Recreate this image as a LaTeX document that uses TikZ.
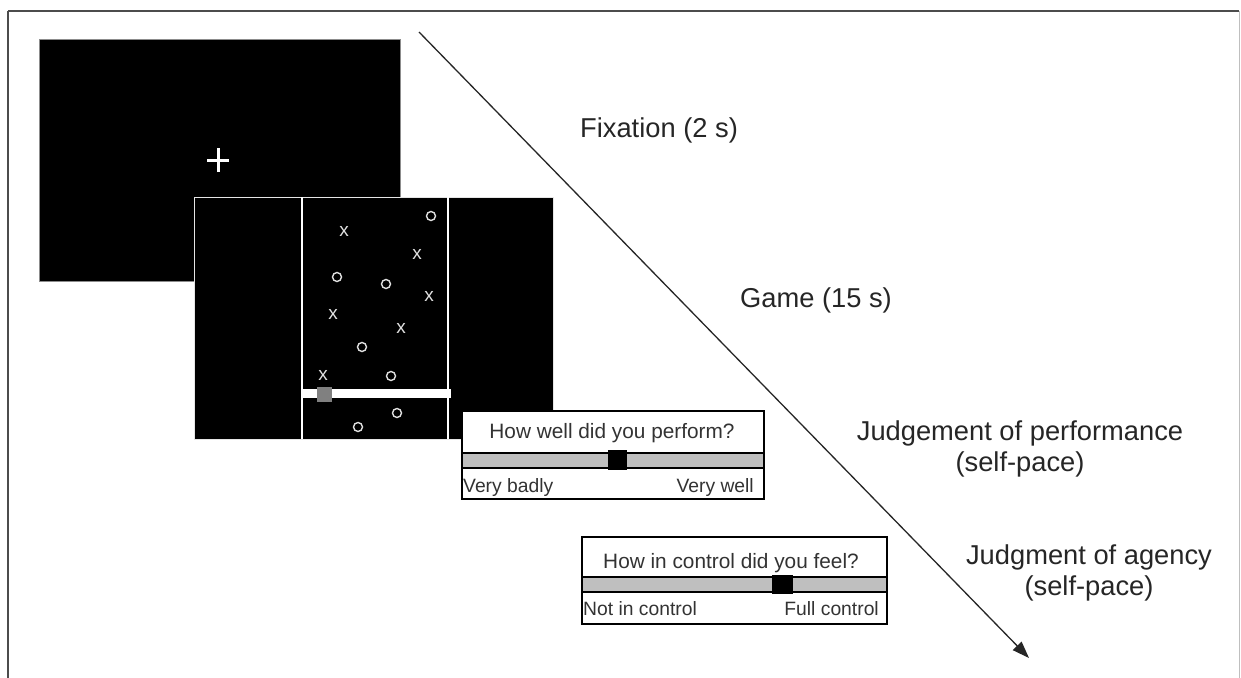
\documentclass[tikz,border=0pt]{standalone}
\usepackage{fontspec}
\setmainfont{Liberation Sans}
\usetikzlibrary{arrows.meta}
\begin{document}
\begin{tikzpicture}[x=1pt,y=-1pt,
  lbl/.style={font=\fontsize{27.3}{31}\selectfont, text=black!85, inner sep=0pt, align=center},
  qtitle/.style={font=\fontsize{20.8}{24}\selectfont, text=black!80, inner sep=0pt},
  qend/.style={font=\fontsize{19.3}{22}\selectfont, text=black!80, inner sep=0pt},
  gx/.style={font=\fontsize{19}{20}\selectfont, text=black!12, inner sep=0pt},
  go/.style={draw=black!12, line width=1.4pt, circle, minimum size=9pt, inner sep=0pt},
  screen/.style={fill=black},
  qbox/.style={draw=black, fill=white, line width=1.2pt},
  qbar/.style={draw=black, fill=black!25, line width=1.1pt}]
\useasboundingbox (0,0) rectangle (1241,677);
\fill[white] (0,0) rectangle (1241,677);
% outer frame
\draw[black!70, line width=1.4pt] (8,11) -- (1239,11);
\draw[black!70, line width=1.4pt] (8,11) -- (8,690);
\draw[black!25, line width=0.8pt] (1239,11) -- (1239,690);

% fixation screen
\fill[screen] (39,39) rectangle (400,281);
\draw[black!45, line width=0.6pt] (39,39) rectangle (400,281);
\coordinate (plus) at (218,160);
\draw[white, line width=3pt] ([xshift=-11pt]plus) -- ([xshift=11pt]plus);
\draw[white, line width=3pt] ([yshift=-12pt]plus) -- ([yshift=12pt]plus);

% game screen
\fill[screen] (194,197) rectangle (553,439);
\draw[black!10, line width=1pt] (194,197) rectangle (553,439);
\draw[white, line width=1.6pt] (302,197) -- (302,439);
\draw[white, line width=1.6pt] (448,197) -- (448,439);
\fill[white] (302,389) rectangle (451,398);
\fill[black!50] (317,387) rectangle (332,402);

\node[go] (o1) at (431,216) {};
\node[gx] (x1) at (344,231) {x};
\node[gx] (x2) at (417,254) {x};
\node[go] (o2) at (337,277) {};
\node[go] (o3) at (386,284) {};
\node[gx] (x3) at (429,296) {x};
\node[gx] (x4) at (333,314) {x};
\node[gx] (x5) at (401,328) {x};
\node[go] (o4) at (362,347) {};
\node[gx] (x6) at (323,375) {x};
\node[go] (o5) at (391,376) {};
\node[go] (o6) at (397,413) {};
\node[go] (o7) at (358,427) {};

% performance box
\draw[qbox] (462,411) rectangle (764,499);
\draw[qbar] (462,453) rectangle (764,468);
\fill[black] (608,450) rectangle (627,470);
\node[qtitle, anchor=base] (perfq) at (612,438) {How well did you perform?};
\node[qend, anchor=base west] (perfl) at (463,492) {Very badly};
\node[qend, anchor=base east] (perfr) at (754,492) {Very well};

% agency box
\draw[qbox] (582,537) rectangle (887,624);
\draw[qbar] (582,577) rectangle (887,592);
\fill[black] (772,575) rectangle (793,594);
\node[qtitle, anchor=base] (agq) at (731,568) {How in control did you feel?};
\node[qend, anchor=base west] (agl) at (583,615) {Not in control};
\node[qend, anchor=base east] (agr) at (879,615) {Full control};

% time arrow
\coordinate (tstart) at (419,32);
\coordinate (tend) at (1029,658);
\draw[black!85, line width=1.3pt, -{Triangle[length=17pt,width=12pt]}] (tstart) -- (tend);

% labels
\node[lbl, anchor=base] (fix) at (659,137) {Fixation (2 s)};
\node[lbl, anchor=base] (game) at (816,307) {Game (15 s)};
\node[lbl] (perf) at (1020,449) {Judgement of performance\\(self-pace)};
\node[lbl] (agency) at (1089,573) {Judgment of agency\\(self-pace)};
\end{tikzpicture}
\end{document}
